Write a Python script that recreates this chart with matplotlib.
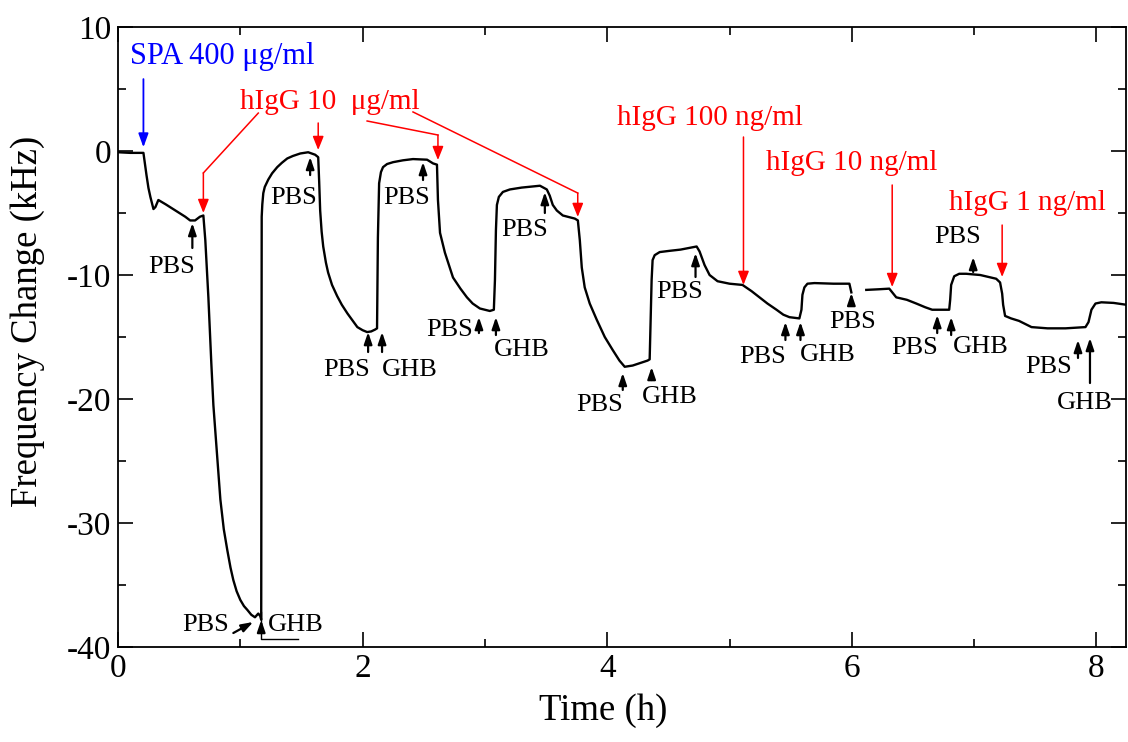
import numpy as np
import matplotlib.pyplot as plt

plt.rcParams['font.family'] = ['Liberation Serif', 'DejaVu Serif']
plt.rcParams['axes.unicode_minus'] = False

# QCM trace, first run (0 - 6 h)
time_a = [0.0, 0.10, 0.208, 0.216, 0.233, 0.249, 0.265, 0.282, 0.29, 0.306, 0.33,
          0.39, 0.47, 0.55, 0.59, 0.63, 0.67, 0.698, 0.714, 0.739, 0.763, 0.78,
          0.796, 0.81, 0.837, 0.865, 0.894, 0.92, 0.943, 0.97, 1.0, 1.03, 1.057,
          1.09, 1.12, 1.147, 1.163, 1.171, 1.175, 1.18, 1.188, 1.20, 1.229, 1.26,
          1.302, 1.34, 1.384, 1.43, 1.49, 1.555, 1.612, 1.637, 1.645, 1.653, 1.665,
          1.678, 1.70, 1.718, 1.75, 1.792, 1.83, 1.876, 1.92, 1.957, 2.0, 2.037,
          2.07, 2.102, 2.118, 2.125, 2.135, 2.15, 2.167, 2.2, 2.249, 2.33, 2.412,
          2.527, 2.576, 2.608, 2.616, 2.633, 2.673, 2.739, 2.80, 2.853, 2.90, 2.959,
          3.04, 3.073, 3.082, 3.09, 3.098, 3.114, 3.147, 3.204, 3.30, 3.45, 3.506,
          3.53, 3.555, 3.588, 3.637, 3.735, 3.76, 3.776, 3.792, 3.816, 3.857, 3.914,
          3.98, 4.045, 4.10, 4.143, 4.208, 4.27, 4.33, 4.347, 4.355, 4.363, 4.371,
          4.388, 4.429, 4.51, 4.60, 4.731, 4.755, 4.796, 4.837, 4.902, 5.0, 5.106,
          5.18, 5.245, 5.31, 5.384, 5.44, 5.49, 5.571, 5.588, 5.596, 5.612, 5.637,
          5.694, 5.85, 5.98, 5.996]
freq_a = [-0.1, -0.15, -0.15, -0.73, -1.94, -2.98, -3.71, -4.35, -4.68, -4.52, -3.95,
          -4.3, -4.8, -5.3, -5.6, -5.6, -5.3, -5.2, -7.2, -11.8, -17.1, -20.5,
          -22.7, -24.5, -28.1, -30.5, -32.2, -33.6, -34.6, -35.5, -36.2, -36.7, -37.0,
          -37.4, -37.6, -37.3, -37.5, -37.8, -5.3, -4.3, -3.4, -2.9, -2.3, -1.8,
          -1.3, -0.95, -0.6, -0.4, -0.2, -0.1, -0.3, -0.5, -2.5, -4.8, -6.5,
          -7.7, -9.0, -9.8, -10.8, -11.7, -12.4, -13.1, -13.7, -14.2, -14.45, -14.6,
          -14.55, -14.4, -14.3, -7.0, -2.6, -1.7, -1.3, -1.05, -0.9, -0.75, -0.65,
          -0.7, -1.0, -1.1, -3.95, -6.6, -8.2, -10.2, -11.1, -11.8, -12.3, -12.7,
          -12.9, -12.8, -10.4, -6.4, -4.35, -3.7, -3.3, -3.1, -2.95, -2.8, -3.1,
          -3.6, -4.35, -4.8, -5.2, -5.45, -5.6, -7.2, -9.4, -11.0, -12.3, -13.6,
          -15.0, -16.05, -16.9, -17.4, -17.3, -17.1, -16.9, -16.8, -13.6, -10.4, -8.8,
          -8.4, -8.15, -8.05, -7.95, -7.7, -8.1, -9.2, -10.0, -10.5, -10.7, -10.8,
          -11.3, -11.8, -12.3, -12.8, -13.2, -13.4, -13.5, -12.8, -11.6, -11.0, -10.7,
          -10.65, -10.7, -10.7, -11.4]

# second run (6.1 h onwards)
time_b = [6.118, 6.22, 6.306, 6.363, 6.45, 6.527, 6.6, 6.657, 6.796, 6.804, 6.812,
          6.837, 6.878, 6.935, 7.05, 7.18, 7.212, 7.229, 7.237, 7.253, 7.302, 7.367,
          7.469, 7.6, 7.747, 7.91, 7.935, 7.959, 7.992, 8.04, 8.14, 8.245]
freq_b = [-11.2, -11.15, -11.1, -11.8, -12.0, -12.3, -12.6, -12.8, -12.8, -12.0, -10.8,
          -10.1, -9.9, -9.9, -10.0, -10.3, -10.6, -11.5, -12.4, -13.3, -13.5, -13.7,
          -14.2, -14.3, -14.3, -14.2, -13.8, -12.8, -12.3, -12.2, -12.25, -12.4]

# buffer injections: label, arrow x, tail y, tip y, text position
buffer_labels = ['PBS', 'PBS', 'GHB', 'PBS', 'GHB', 'PBS', 'PBS', 'GHB', 'PBS',
                 'PBS', 'GHB', 'PBS', 'PBS', 'GHB', 'PBS', 'PBS', 'GHB', 'PBS',
                 'PBS', 'GHB']
buffer_x = [0.608, 1.571, 1.171, 2.045, 2.159, 2.494, 2.951, 3.09, 3.49, 4.127,
            4.363, 4.722, 5.457, 5.58, 5.996, 6.698, 6.812, 6.992, 7.849, 7.947]
buffer_tail = [-7.82, -1.94, -38.87, -16.21, -16.21, -2.34, -14.68, -14.84, -5.0,
               -19.27, -18.47, -10.16, -15.24, -15.24, -12.42, -14.68, -14.84,
               -9.76, -16.69, -18.71]
buffer_tip = [-5.81, -0.48, -37.82, -14.6, -14.6, -0.89, -13.39, -13.39, -3.31,
              -17.9, -17.42, -8.23, -13.79, -13.79, -11.45, -13.23, -13.39,
              -8.55, -15.24, -15.08]
buffer_text_x = [0.437, 1.433, 1.457, 1.873, 2.388, 2.363, 2.714, 3.302, 3.327,
                 3.939, 4.51, 4.592, 5.27, 5.8, 6.004, 6.51, 7.057, 6.861, 7.612,
                 7.906]
buffer_text_y = [-9.35, -3.79, -38.23, -17.66, -17.66, -3.79, -14.44, -16.05, -6.37,
                 -20.48, -19.84, -11.37, -16.61, -16.45, -13.79, -15.89, -15.81,
                 -6.94, -17.42, -20.32]

fig = plt.figure(figsize=(11.28, 7.42), dpi=100)
ax = fig.add_axes([0.1046, 0.128, 0.894, 0.8356])

ax.plot(time_a, freq_a, color='black', lw=1.7)
ax.plot(time_b, freq_b, color='black', lw=1.7)

ax.set_xlim(0, 8.245)
ax.set_ylim(-40, 10)
ax.set_xticks([0, 2, 4, 6, 8])
ax.set_xticks([1, 3, 5, 7], minor=True)
ax.set_yticks([-40, -30, -20, -10, 0, 10])
ax.set_yticks([-35, -25, -15, -5, 5], minor=True)
ax.tick_params(which='both', direction='in', top=True, right=True, width=1.2,
               labelsize=24, pad=5)
ax.tick_params(which='major', length=11)
ax.tick_params(which='minor', length=6)
for s in ax.spines.values():
    s.set_linewidth(1.3)
ax.set_xlabel('Time (h)', fontsize=26.5)
ax.set_ylabel('Frequency Change (kHz)', fontsize=26.5)
ax.xaxis.set_label_coords(0.4807, -0.074)
ax.yaxis.set_label_coords(-0.0723, 0.526)

# SPA immobilisation
ax.annotate('', xy=(0.208, 0.3), xytext=(0.208, 5.8),
            arrowprops=dict(arrowstyle='-|>,head_length=0.55,head_width=0.2',
                            color='blue', lw=1.3, mutation_scale=15,
                            shrinkA=0, shrinkB=0))
ax.text(0.10, 7.66, 'SPA 400 μg/ml', color='blue', fontsize=22, va='center')

# hIgG 10 ug/ml, four injections from one label
ax.text(1.0, 3.95, 'hIgG 10  μg/ml', color='red', fontsize=21, va='center')
red = dict(arrowstyle='-|>,head_length=0.55,head_width=0.22', color='red', lw=1.1,
           mutation_scale=15, shrinkA=0, shrinkB=0)
ax.plot([1.147, 0.698], [3.06, -1.77], color='red', lw=1.1)
ax.annotate('', xy=(0.698, -5.0), xytext=(0.698, -1.77), arrowprops=red)
ax.annotate('', xy=(1.637, 0.08), xytext=(1.637, 2.26), arrowprops=red)
ax.plot([2.037, 2.616], [2.42, 1.29], color='red', lw=1.1)
ax.annotate('', xy=(2.616, -0.73), xytext=(2.616, 1.29), arrowprops=red)
ax.plot([2.412, 3.759], [3.15, -3.39], color='red', lw=1.1)
ax.annotate('', xy=(3.759, -5.32), xytext=(3.759, -3.39), arrowprops=red)

# lower hIgG concentrations
ax.text(4.078, 2.66, 'hIgG 100 ng/ml', color='red', fontsize=21, va='center')
ax.annotate('', xy=(5.114, -10.8), xytext=(5.114, 1.13), arrowprops=red)
ax.text(5.302, -0.97, 'hIgG 10 ng/ml', color='red', fontsize=21, va='center')
ax.annotate('', xy=(6.33, -10.97), xytext=(6.33, -2.74), arrowprops=red)
ax.text(6.796, -4.19, 'hIgG 1 ng/ml', color='red', fontsize=21, va='center')
ax.annotate('', xy=(7.229, -10.16), xytext=(7.229, -5.97), arrowprops=red)

# buffer arrows
blk = dict(arrowstyle='-|>,head_length=0.5,head_width=0.17', color='black', lw=1.6,
           mutation_scale=14, shrinkA=0, shrinkB=0)
for i in range(len(buffer_labels)):
    ax.annotate('', xy=(buffer_x[i], buffer_tip[i]),
                xytext=(buffer_x[i], buffer_tail[i]), arrowprops=blk)
    ax.text(buffer_text_x[i], buffer_text_y[i], buffer_labels[i], fontsize=19,
            ha='center', va='center')

# crowded bottom of the first hIgG step
ax.annotate('', xy=(1.106, -37.98), xytext=(0.943, -38.87), arrowprops=blk)
ax.text(0.714, -38.23, 'PBS', fontsize=19, ha='center', va='center')
ax.plot([1.171, 1.171, 1.473], [-37.18, -39.35, -39.35], color='black', lw=1.0)

fig.savefig('out.png', dpi=100)
